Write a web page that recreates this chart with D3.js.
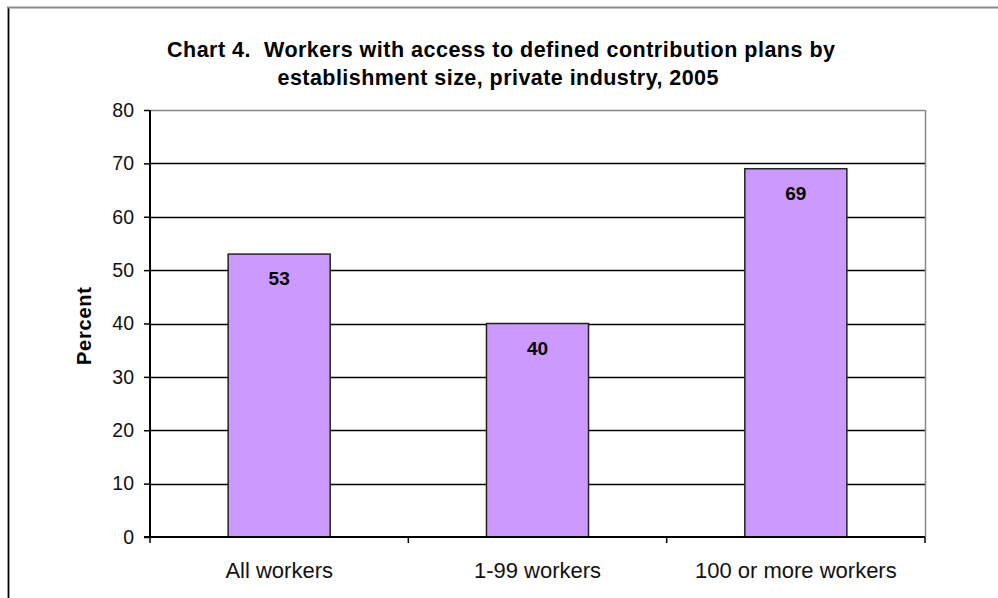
<!DOCTYPE html>
<html>
<head>
<meta charset="utf-8">
<script src="https://cdn.jsdelivr.net/npm/d3@7"></script>
<style>
  html, body { margin: 0; padding: 0; background: #fff; }
  svg { display: block; }
  text { font-family: "Liberation Sans", Arial, sans-serif; }
</style>
</head>
<body>
<svg id="chart" width="998" height="598"></svg>
<script>
const categories = ["All workers", "1-99 workers", "100 or more workers"];
const values = [53, 40, 69];
const yTicks = [0, 10, 20, 30, 40, 50, 60, 70, 80];
const titleLines = ["Chart 4.  Workers with access to defined contribution plans by",
                    "establishment size, private industry, 2005"];
const yLabel = "Percent";

const svg = d3.select("#chart");
const plot = { left: 150, right: 925, top: 110, bottom: 537 };

// outer frame
svg.append("line").attr("x1", 8.5).attr("x2", 8.5).attr("y1", 7).attr("y2", 598)
  .attr("stroke", "#999").attr("stroke-width", 3);
svg.append("line").attr("x1", 8.5).attr("x2", 8.5).attr("y1", 7).attr("y2", 598)
  .attr("stroke", "#000").attr("stroke-width", 1);
svg.append("line").attr("x1", 7).attr("x2", 998).attr("y1", 7.5).attr("y2", 7.5)
  .attr("stroke", "#888").attr("stroke-width", 2);

const x = d3.scaleBand().domain(categories).range([plot.left, plot.right]).paddingInner(0).paddingOuter(0);
const y = d3.scaleLinear().domain([0, 80]).range([plot.bottom, plot.top]);

// gridlines
svg.append("g").selectAll("line").data(yTicks.filter(d => d > 0 && d < 80)).join("line")
  .attr("x1", plot.left).attr("x2", plot.right)
  .attr("y1", d => Math.round(y(d)) + 0.5).attr("y2", d => Math.round(y(d)) + 0.5)
  .attr("stroke", "#000").attr("stroke-width", 1.5);

// plot frame (top & right gray)
svg.append("line").attr("x1", plot.left).attr("x2", plot.right).attr("y1", plot.top + 0.5).attr("y2", plot.top + 0.5)
  .attr("stroke", "#888").attr("stroke-width", 1.5);
svg.append("line").attr("x1", plot.right + 0.5).attr("x2", plot.right + 0.5).attr("y1", plot.top).attr("y2", plot.bottom)
  .attr("stroke", "#888").attr("stroke-width", 1.5);

// bars
const barW = x.bandwidth() * 0.395;
svg.append("g").selectAll("rect").data(values).join("rect")
  .attr("x", (d, i) => x(categories[i]) + (x.bandwidth() - barW) / 2)
  .attr("y", d => y(d))
  .attr("width", barW)
  .attr("height", d => y(0) - y(d))
  .attr("fill", "#CC99FF")
  .attr("stroke", "#222")
  .attr("stroke-width", 1.5);

// value labels
svg.append("g").selectAll("text").data(values).join("text")
  .attr("x", (d, i) => x(categories[i]) + x.bandwidth() / 2)
  .attr("y", d => y(d) + 31)
  .attr("text-anchor", "middle")
  .attr("font-weight", "bold")
  .attr("font-size", 19)
  .attr("fill", "#000")
  .text(d => d);

// y axis
const yAxis = d3.axisLeft(y).tickValues(yTicks).tickSize(6).tickPadding(10);
const gy = svg.append("g").attr("transform", `translate(${plot.left},0)`).call(yAxis);
gy.select(".domain").attr("stroke", "#000").attr("stroke-width", 2).attr("d", `M0,${plot.top}V${plot.bottom}`);
gy.selectAll(".tick line").attr("stroke", "#000").attr("stroke-width", 1.5);
gy.selectAll(".tick text").attr("font-size", 19.5).attr("fill", "#111").attr("font-family", "Liberation Sans, Arial, sans-serif");

// x axis
const xAxis = d3.axisBottom(x).tickSize(0).tickPadding(25);
const gx = svg.append("g").attr("transform", `translate(0,${plot.bottom})`).call(xAxis);
gx.select(".domain").attr("stroke", "#000").attr("stroke-width", 2).attr("d", `M${plot.left - 6},0H${plot.right}`);
gx.selectAll(".tick text").attr("font-size", 22).attr("fill", "#111").attr("font-family", "Liberation Sans, Arial, sans-serif");
// category boundary ticks
const bounds = categories.map(c => x(c)).concat([plot.right]);
svg.append("g").selectAll("line").data(bounds).join("line")
  .attr("x1", d => d).attr("x2", d => d)
  .attr("y1", plot.bottom).attr("y2", plot.bottom + 6)
  .attr("stroke", "#000").attr("stroke-width", 1.5);

// title
const titleWidths = [668, 441];
const titleCenters = [501, 498];
svg.append("g").selectAll("text").data(titleLines).join("text")
  .attr("x", (d, i) => titleCenters[i]).attr("y", (d, i) => 57 + i * 28)
  .attr("text-anchor", "middle")
  .attr("font-weight", "bold")
  .attr("font-size", 21.5)
  .attr("fill", "#000")
  .attr("xml:space", "preserve")
  .style("white-space", "pre")
  .attr("textLength", (d, i) => titleWidths[i])
  .attr("lengthAdjust", "spacing")
  .text(d => d);

// y label
svg.append("text")
  .attr("transform", `translate(91,326) rotate(-90)`)
  .attr("text-anchor", "middle")
  .attr("font-weight", "bold")
  .attr("font-size", 20)
  .attr("fill", "#000")
  .attr("textLength", 78)
  .attr("lengthAdjust", "spacing")
  .text(yLabel);
</script>
</body>
</html>
